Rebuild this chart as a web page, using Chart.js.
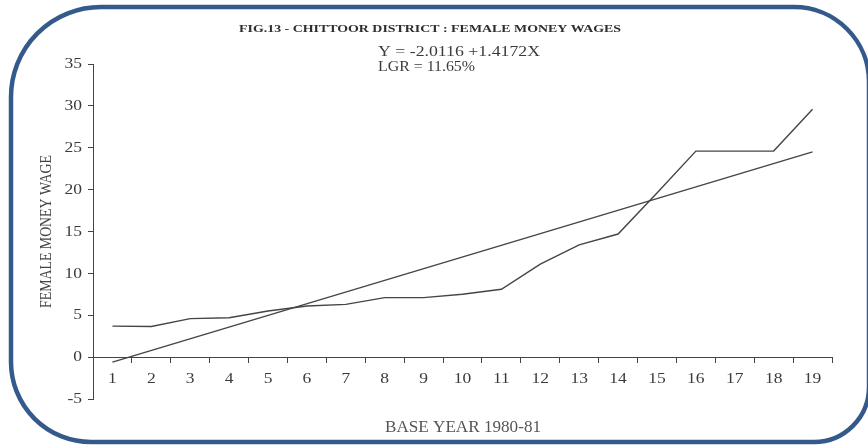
<!DOCTYPE html>
<html>
<head>
<meta charset="utf-8">
<script src="https://cdn.jsdelivr.net/npm/chart.js@4"></script>
<style>
  html, body { margin: 0; padding: 0; background: #fff; }
  #wrap { width: 868px; height: 445px; position: relative; }
</style>
</head>
<body>
<div id="wrap"><canvas id="chart" width="868" height="445"></canvas></div>
<script>
// Years counted from the base year 1980-81
const years = ['1','2','3','4','5','6','7','8','9','10','11','12','13','14','15','16','17','18','19'];

// Female money wage (Rs per day)
const femaleWage = [3.7, 3.65, 4.6, 4.7, 5.5, 6.1, 6.3, 7.1, 7.1, 7.5, 8.1, 11.1, 13.4, 14.7, 19.6, 24.6, 24.6, 24.6, 29.6];

// Fitted linear trend: end points only, the line is spanned between them
const trendLine = [-0.59, null, null, null, null, null, null, null, null, null, null, null, null, null, null, null, null, null, 24.5];

const yMin = -5, yMax = 35, yStep = 5;

const titleText = 'FIG.13 - CHITTOOR DISTRICT : FEMALE MONEY WAGES';
const equationText = 'Y = -2.0116 +1.4172X';
const lgrText = 'LGR = 11.65%';
const xTitle = 'BASE YEAR 1980-81';
const yTitle = 'FEMALE MONEY WAGE';

const SERIF = "'Liberation Serif', 'Times New Roman', serif";
const INK = '#3a3a3a';

// draw text with a horizontal stretch factor around its anchor point
function stretchText(ctx, text, x, y, font, color, align, baseline, sx) {
  ctx.save();
  ctx.font = font;
  ctx.fillStyle = color;
  ctx.textAlign = align;
  ctx.textBaseline = baseline;
  ctx.translate(x, y);
  ctx.scale(sx, 1);
  ctx.fillText(text, 0, 0);
  ctx.restore();
}

// draw text squeezed or stretched to an exact width
function fitText(ctx, text, x, y, font, color, align, width) {
  ctx.save();
  ctx.font = font;
  const w = ctx.measureText(text).width;
  ctx.restore();
  stretchText(ctx, text, x, y, font, color, align, 'alphabetic', width / w);
}

const decorations = {
  id: 'decorations',
  afterDraw(chart) {
    const ctx = chart.ctx;
    const xs = chart.scales.x;
    const ys = chart.scales.y;

    // y tick labels
    ys.ticks.forEach((t) => {
      const py = ys.getPixelForValue(t.value);
      stretchText(ctx, String(t.value), ys.right - 11, py + 0.5, '14px ' + SERIF, INK, 'right', 'middle', 1.25);
    });

    // x tick labels, below the zero line
    const zeroY = ys.getPixelForValue(0);
    years.forEach((lab, i) => {
      const px = xs.getPixelForValue(i);
      stretchText(ctx, lab, px, zeroY + 22, '14px ' + SERIF, INK, 'center', 'middle', 1.25);
    });

    // chart title
    fitText(ctx, titleText, 430, 32, 'bold 10.5px ' + SERIF, '#2e2e2e', 'center', 382);

    // regression equation and growth rate
    fitText(ctx, equationText, 378, 55.5, '14.5px ' + SERIF, INK, 'left', 162);
    fitText(ctx, lgrText, 378, 70.5, '14.5px ' + SERIF, INK, 'left', 97);

    // x axis title
    fitText(ctx, xTitle, 463, 431.5, '16.5px ' + SERIF, '#555', 'center', 156);

    // y axis title, rotated
    ctx.save();
    ctx.translate(46.5, 231.5);
    ctx.rotate(-Math.PI / 2);
    ctx.font = '17px ' + SERIF;
    const w = ctx.measureText(yTitle).width;
    ctx.scale(153 / w, 1);
    ctx.fillStyle = '#444';
    ctx.textAlign = 'center';
    ctx.textBaseline = 'middle';
    ctx.fillText(yTitle, 0, 0);
    ctx.restore();

    // rounded frame
    ctx.save();
    ctx.strokeStyle = '#345a8b';
    ctx.lineWidth = 4.5;
    ctx.beginPath();
    ctx.roundRect(11, 7, 858, 435, [90, 75, 55, 80]);
    ctx.stroke();
    ctx.restore();
  }
};

new Chart(document.getElementById('chart'), {
  type: 'line',
  data: {
    labels: years,
    datasets: [
      {
        label: 'Female money wage',
        data: femaleWage,
        borderColor: '#454545',
        borderWidth: 1.4,
        pointRadius: 0,
        tension: 0,
        fill: false
      },
      {
        label: 'Trend',
        data: trendLine,
        spanGaps: true,
        borderColor: '#454545',
        borderWidth: 1.4,
        pointRadius: 0,
        tension: 0,
        fill: false
      }
    ]
  },
  options: {
    responsive: false,
    animation: false,
    devicePixelRatio: 1,
    layout: { padding: { left: 0, right: 36, top: 64, bottom: 46 } },
    plugins: {
      legend: { display: false },
      tooltip: { enabled: false },
      title: { display: false }
    },
    scales: {
      x: {
        type: 'category',
        offset: true,
        position: { y: 0 },
        grid: {
          offset: true,
          drawOnChartArea: false,
          drawTicks: true,
          tickLength: 5,
          color: '#444',
          lineWidth: 1
        },
        border: { display: true, color: '#444', width: 1 },
        ticks: { color: 'rgba(0,0,0,0)', autoSkip: false, maxRotation: 0 }
      },
      y: {
        position: 'left',
        min: yMin,
        max: yMax,
        ticks: { stepSize: yStep, color: 'rgba(0,0,0,0)' },
        grid: {
          drawOnChartArea: false,
          drawTicks: true,
          tickLength: 5,
          color: '#444',
          lineWidth: 1
        },
        border: { display: true, color: '#444', width: 1 },
        afterFit(scale) { scale.width = 93; }
      }
    }
  },
  plugins: [decorations]
});
</script>
</body>
</html>
